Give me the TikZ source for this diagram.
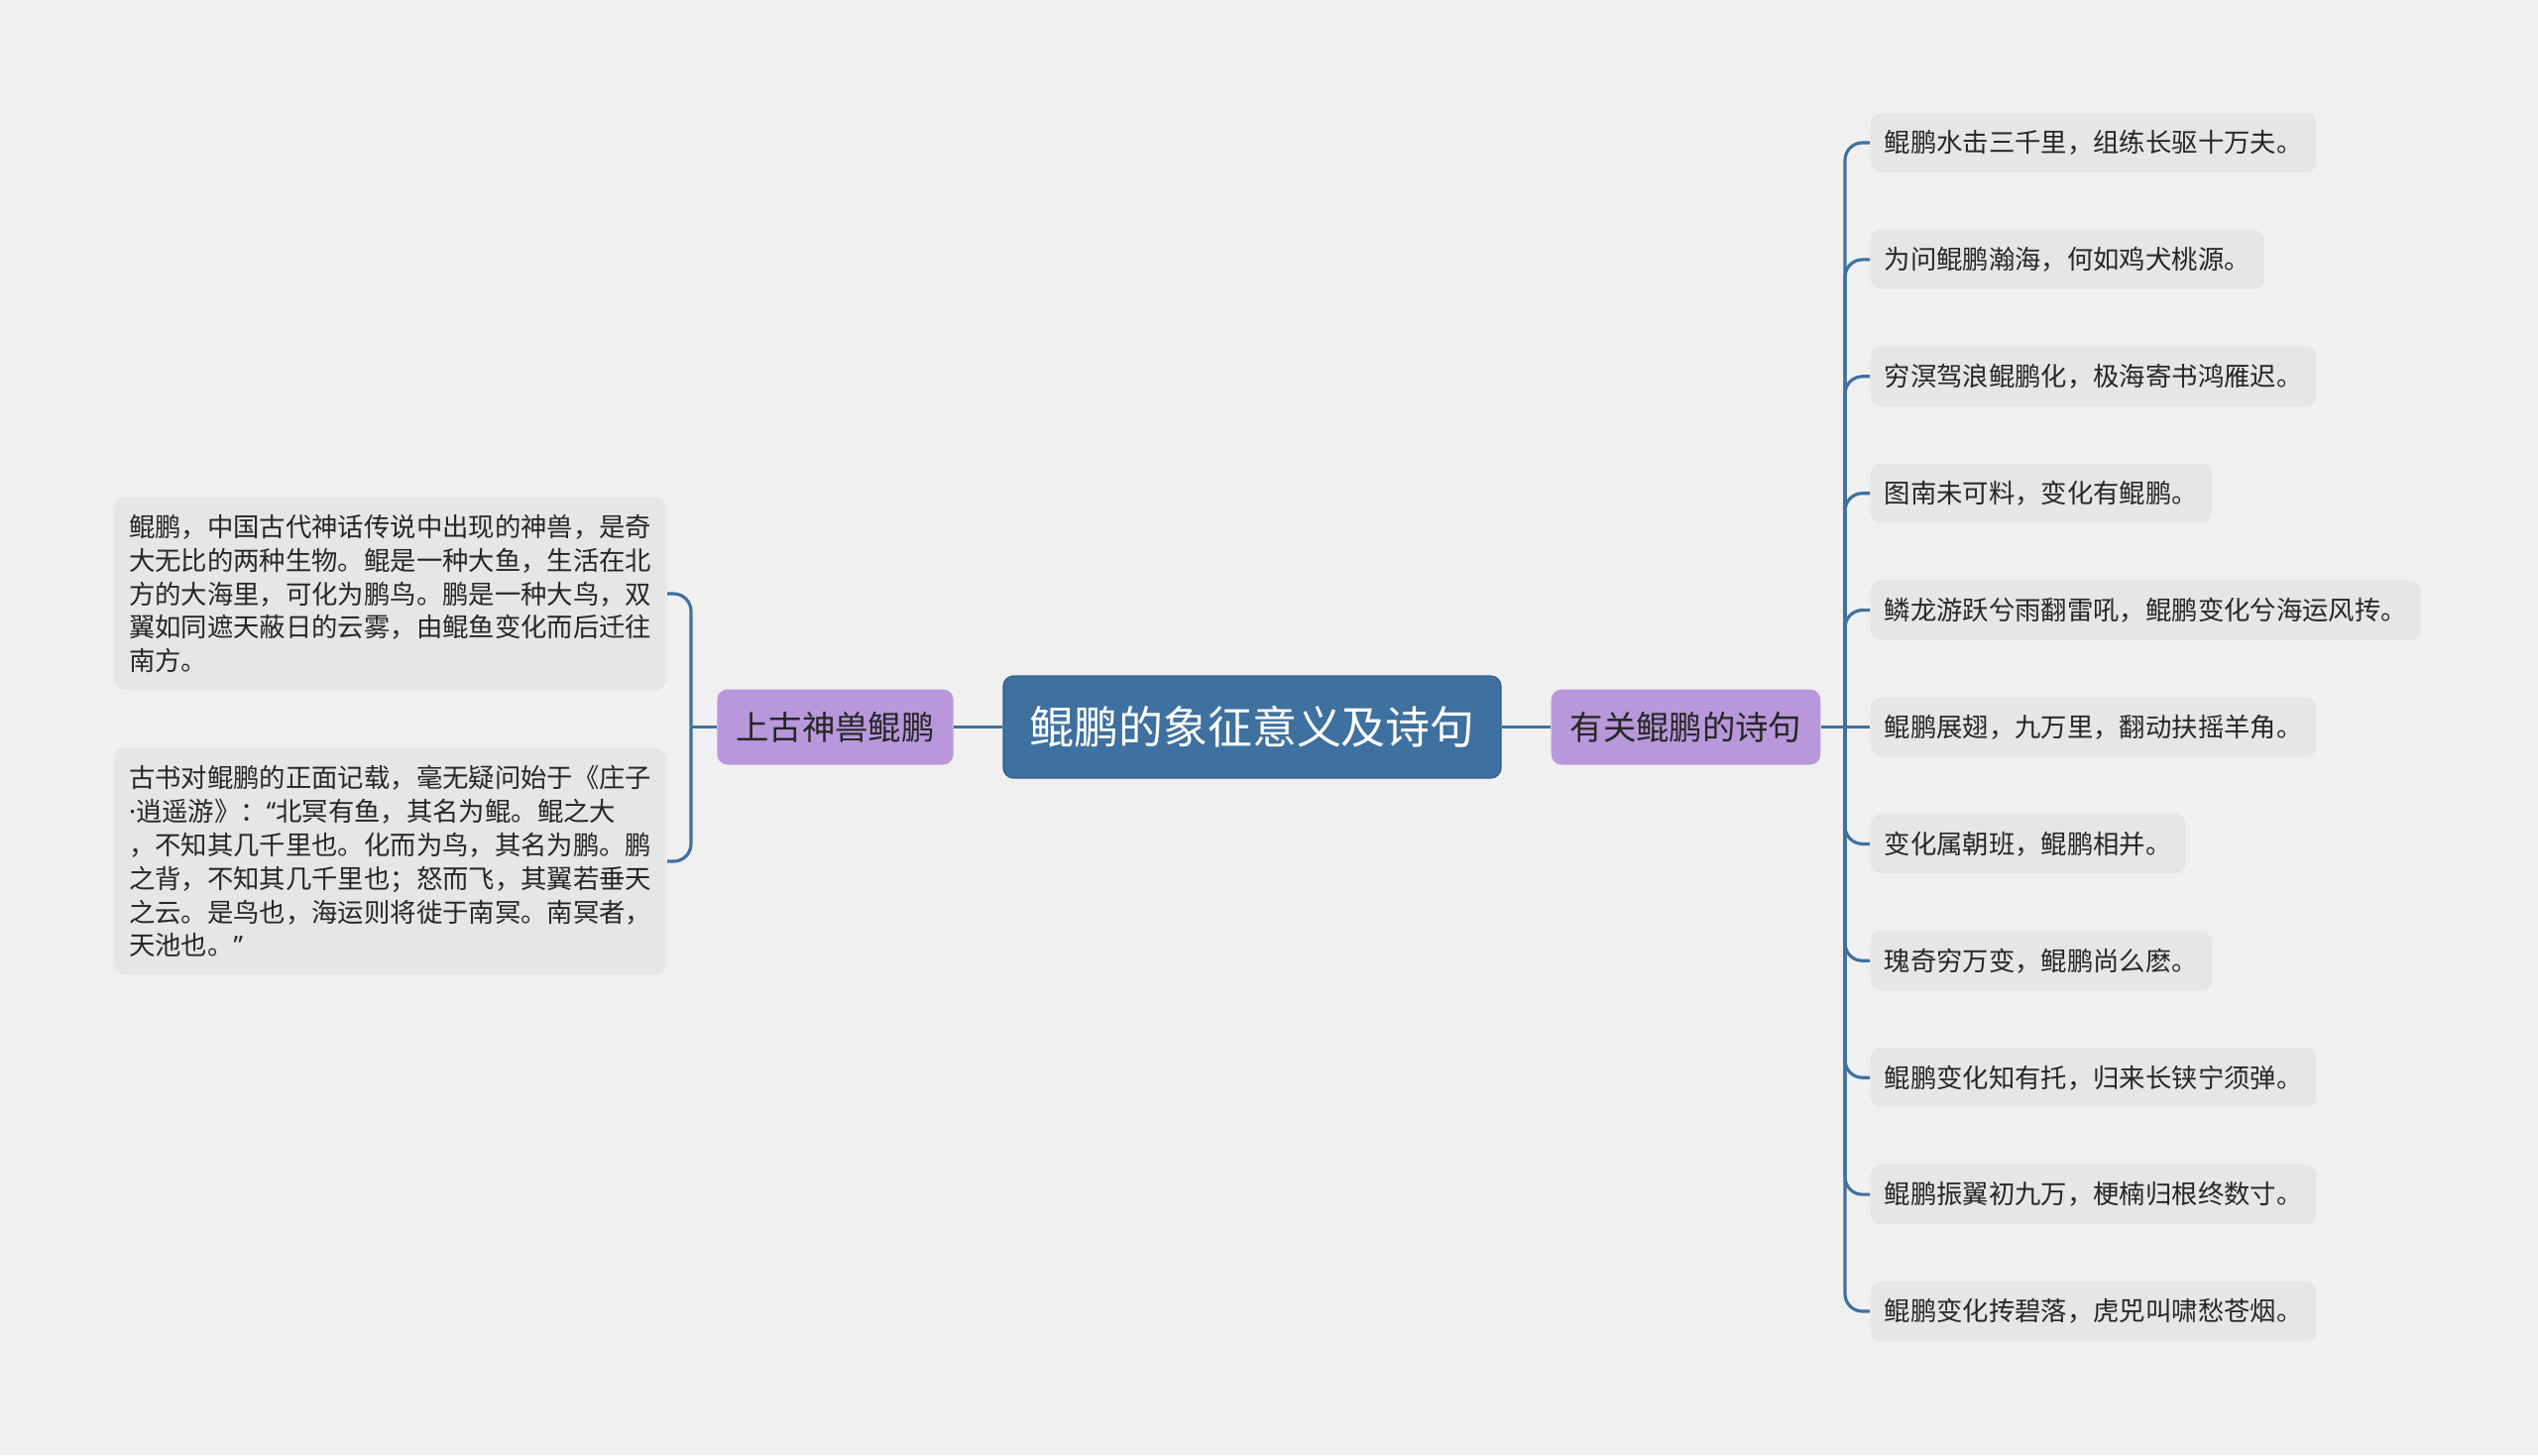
\documentclass[tikz,border=0pt]{standalone}
\usepackage{fontspec}
\setmainfont{Noto Sans CJK SC}
\newfontfamily\latinfont{Noto Sans}
\usepackage{xcolor}
\usepackage{tikz}

\definecolor{bggray}{RGB}{240,240,240}
\definecolor{leafgray}{RGB}{230,230,230}
\definecolor{hubblue}{RGB}{62,112,160}
\definecolor{subpurple}{RGB}{184,152,219}
\definecolor{inkgray}{RGB}{38,38,38}

\begin{document}
\begin{tikzpicture}[
   hub/.style={rounded corners=3pt,draw=hubblue!85!black,fill=hubblue,text=white,
     minimum width=5.02cm,minimum height=1.03cm,inner sep=0pt,
     font=\fontsize{12.8}{15}\selectfont},
   sub/.style={rounded corners=3pt,fill=subpurple,text=inkgray,
     minimum height=0.76cm,inner xsep=0.19cm,font=\fontsize{9.5}{12}\selectfont},
   leaf/.style={rounded corners=3pt,fill=leafgray,text=inkgray,anchor=west,
     minimum height=0.6cm,inner xsep=0.14cm,font=\fontsize{7.5}{9.65}\selectfont},
   note/.style={rounded corners=3pt,fill=leafgray,text=inkgray,anchor=east,align=left,
     inner xsep=0.15cm,inner ysep=0.17cm,font=\fontsize{7.5}{9.65}\selectfont},
   link/.style={draw=hubblue,line width=0.9pt,rounded corners=5pt}]
  \fill[bggray] (0,0) rectangle (25.6,-14.68);
  \useasboundingbox (0,0) rectangle (25.6,-14.68);
  % centre
  \node[hub] (c) at (12.63,-7.335) {鲲鹏的象征意义及诗句};
  \node[sub] (l) at (8.425,-7.335) {上古神兽鲲鹏};
  \node[sub] (r) at (17.005,-7.335) {有关鲲鹏的诗句};
  \coordinate (lt) at (6.97,-7.335);
  \coordinate (rt) at (18.61,-7.335);
  \draw[link] (c.west) -- (l.east); \draw[link] (c.east) -- (r.west);
  \draw[link] (l.west) -- (lt); \draw[link] (r.east) -- (rt);
  % left branch
  \node[note] (n1) at (6.73,-5.99)
    {鲲鹏，中国古代神话传说中出现的神兽，是奇\\
     大无比的两种生物。鲲是一种大鱼，生活在北\\
     方的大海里，可化为鹏鸟。鹏是一种大鸟，双\\
     翼如同遮天蔽日的云雾，由鲲鱼变化而后迁往\\
     南方。};
  \node[note] (n2) at (6.73,-8.69)
    {古书对鲲鹏的正面记载，毫无疑问始于《庄子\\
     {\latinfont ·}逍遥游》：{\latinfont “}北冥有鱼，其名为鲲。鲲之大\\
     ，不知其几千里也。化而为鸟，其名为鹏。鹏\\
     之背，不知其几千里也；怒而飞，其翼若垂天\\
     之云。是鸟也，海运则将徙于南冥。南冥者，\\
     天池也。{\latinfont ”}};
  \draw[link] (lt) |- (n1.east); \draw[link] (lt) |- (n2.east);
  % right branch
  \node[leaf] (p1) at (18.86,-1.44) {鲲鹏水击三千里，组练长驱十万夫。};
  \node[leaf] (p2) at (18.86,-2.619) {为问鲲鹏瀚海，何如鸡犬桃源。};
  \node[leaf] (p3) at (18.86,-3.798) {穷溟驾浪鲲鹏化，极海寄书鸿雁迟。};
  \node[leaf] (p4) at (18.86,-4.977) {图南未可料，变化有鲲鹏。};
  \node[leaf] (p5) at (18.86,-6.156) {鳞龙游跃兮雨翻雷吼，鲲鹏变化兮海运风抟。};
  \node[leaf] (p6) at (18.86,-7.335) {鲲鹏展翅，九万里，翻动扶摇羊角。};
  \node[leaf] (p7) at (18.86,-8.514) {变化属朝班，鲲鹏相并。};
  \node[leaf] (p8) at (18.86,-9.693) {瑰奇穷万变，鲲鹏尚么麽。};
  \node[leaf] (p9) at (18.86,-10.872) {鲲鹏变化知有托，归来长铗宁须弹。};
  \node[leaf] (p10) at (18.86,-12.051) {鲲鹏振翼初九万，梗楠归根终数寸。};
  \node[leaf] (p11) at (18.86,-13.23) {鲲鹏变化抟碧落，虎兕叫啸愁苍烟。};
  \draw[link] (rt) |- (p1.west); \draw[link] (rt) |- (p2.west);
  \draw[link] (rt) |- (p3.west); \draw[link] (rt) |- (p4.west);
  \draw[link] (rt) |- (p5.west); \draw[link] (rt) -- (p6.west);
  \draw[link] (rt) |- (p7.west); \draw[link] (rt) |- (p8.west);
  \draw[link] (rt) |- (p9.west); \draw[link] (rt) |- (p10.west);
  \draw[link] (rt) |- (p11.west);
\end{tikzpicture}
\end{document}
